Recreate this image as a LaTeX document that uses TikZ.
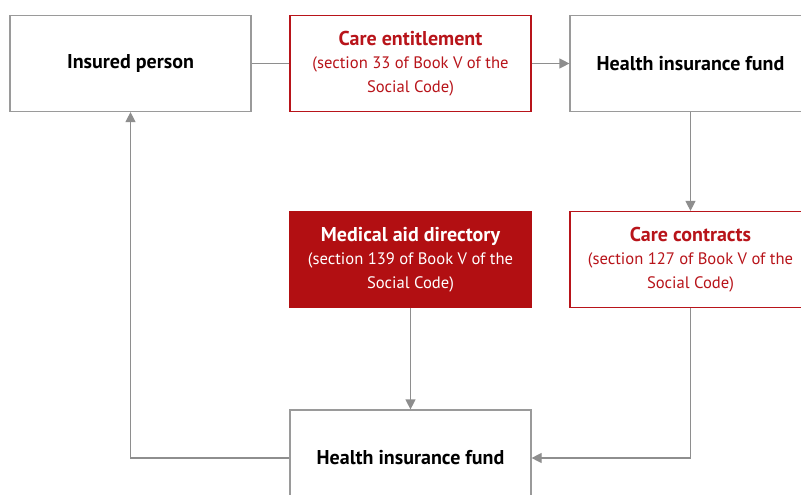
\documentclass[tikz,border=0pt]{standalone}
\usepackage{fontspec}
\setmainfont{PT Sans}
\usetikzlibrary{arrows.meta}
\definecolor{lineg}{HTML}{8E8E8E}
\definecolor{boxg}{HTML}{9A9A9A}
\definecolor{dred}{HTML}{B20F12}
\definecolor{tred}{HTML}{B8141A}
\tikzset{
  box/.style={draw=boxg, line width=1.2pt, fill=white, minimum width=241pt, minimum height=96pt, inner sep=0pt, align=center, font=\fontsize{20}{24}\selectfont\bfseries},
  redbox/.style={box, draw=tred, text=tred},
  filledbox/.style={box, draw=dred, fill=dred, text=white},
  conn/.style={draw=lineg, line width=1.2pt},
  arr/.style={conn, -{Triangle[length=10pt,width=10pt]}},
}
\newcommand{\subl}[1]{{\fontsize{16.6}{23.5}\selectfont\mdseries #1}}
\begin{document}
\begin{tikzpicture}[x=1pt,y=-1pt]
\useasboundingbox (0,0) rectangle (801,495);
\clip (0,0) rectangle (801,495);
\fill[white] (0,0) rectangle (801,495);
\node[box] (ip) at (130.5,63.5) {Insured person};
\node[redbox] (ce) at (410.5,63.5) {Care entitlement\\[-1pt]\subl{(section 33 of Book V of the}\\\subl{Social Code)}};
\node[box] (hf1) at (690.5,63.5) {Health insurance fund};
\node[filledbox] (ma) at (410.5,259.5) {Medical aid directory\\[-1pt]\subl{(section 139 of Book V of the}\\\subl{Social Code)}};
\node[redbox] (cc) at (690.5,259.5) {Care contracts\\[-1pt]\subl{(section 127 of Book V of the}\\\subl{Social Code)}};
\node[box] (hf2) at (410.5,458) {Health insurance fund};
\draw[conn] (ip.east) -- (ce.west);
\draw[arr] (ce.east) -- (hf1.west);
\draw[arr] (hf1.south) -- (cc.north);
\draw[arr] (ma.south) -- (hf2.north);
\draw[arr] (cc.south) |- (hf2.east);
\draw[arr] (hf2.west) -| (ip.south);
\end{tikzpicture}
\end{document}
